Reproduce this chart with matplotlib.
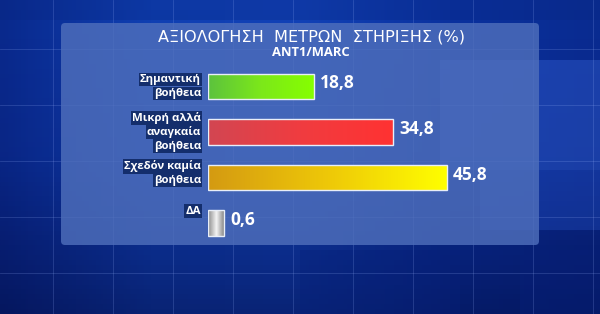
import numpy as np
import matplotlib
matplotlib.use("Agg")
import matplotlib.pyplot as plt
from matplotlib.patches import FancyBboxPatch, Rectangle
from matplotlib.colors import LinearSegmentedColormap
import matplotlib.transforms as mtransforms

# ---- data ----
categories = ["Σημαντική\nβοήθεια", "Μικρή αλλά\nαναγκαία\nβοήθεια",
              "Σχεδόν καμία\nβοήθεια", "ΔΑ"]
values = [18.8, 34.8, 45.8, 0.6]
title = "ΑΞΙΟΛΟΓΗΣΗ  ΜΕΤΡΩΝ  ΣΤΗΡΙΞΗΣ (%)"
subtitle = "ANT1/MARC"

# ---- style ----
bar_gradients = [
    ["#5cc23e", "#7ce81a", "#86ff00"],
    ["#d24652", "#f03c40", "#ff3232"],
    ["#d49a12", "#eec808", "#ffff00"],
    ["#8a8a8a", "#f4f4f4", "#7a7a7a"],
]
label_dy = [0, 0, -4, -12]   # pixel nudges for category labels
plt.rcParams["font.family"] = ["DejaVu Sans"]
BOLDFONT = ["Open Sans", "DejaVu Sans"]

W, H = 600, 314
fig = plt.figure(figsize=(6, 3.14), dpi=100)

# ---- background ----
bg = fig.add_axes([0, 0, 1, 1])
bg.set_xlim(0, W)
bg.set_ylim(H, 0)
bg.axis("off")
bgcmap = LinearSegmentedColormap.from_list("bg", ["#0a2a8e", "#1040b4", "#1242b8", "#0b32a0", "#0a2c92"])
grad = np.linspace(0, 1, 256)[None, :]
bg.imshow(grad, cmap=bgcmap, extent=(0, W, H, 0), aspect="auto", zorder=0)
vgrad = np.linspace(0, 1, 64)[:, None]
bg.imshow(vgrad, cmap=LinearSegmentedColormap.from_list(
    "v", [(0, 0, 0.2, 0.0), (0, 0, 0.2, 0.1), (0, 0, 0.15, 0.45)]),
    extent=(0, W, H, 0), aspect="auto", zorder=0.5)
for (x, y, w, h, c, a) in [(440, 60, 160, 110, "#3a6ae0", 0.35), (480, 170, 120, 60, "#2a58d0", 0.3),
                           (300, 250, 160, 64, "#06207a", 0.35), (520, 250, 80, 64, "#06207a", 0.4),
                           (0, 0, 600, 20, "#08267f", 0.3)]:
    bg.add_patch(Rectangle((x, y), w, h, fc=c, alpha=a, ec="none", zorder=0.8))
for gx in np.arange(53, W, 60):
    bg.axvline(gx, color="#9fb8ff", lw=0.6, alpha=0.22, zorder=0.9)
for gy in np.arange(49, H, 56):
    bg.axhline(gy, color="#9fb8ff", lw=0.6, alpha=0.22, zorder=0.9)

panel = FancyBboxPatch((61, 23), 478, 222, boxstyle="round,pad=0,rounding_size=4",
                       fc="#5070bc", ec="none", alpha=0.8, zorder=1)
bg.add_patch(panel)

bg.text(311, 37, title, color="white", fontsize=11.6, ha="center", va="center", zorder=3)
bg.text(311, 53, subtitle, color="white", fontsize=9.4, fontweight="bold",
        family=BOLDFONT, ha="center", va="center", zorder=3)

# ---- bars ----
px_per_unit = 4.93
base = 2.7
ax_l, ax_r = 208, 540
y_top, y_bot = 63.75, 245.75
ax = fig.add_axes([ax_l / W, 1 - y_bot / H, (ax_r - ax_l) / W, (y_bot - y_top) / H])
ax.set_xlim(-base, -base + (ax_r - ax_l) / px_per_unit)
ax.set_ylim(len(values) - 0.5, -0.5)
ax.axis("off")
ax.patch.set_alpha(0)

ypos = np.arange(len(values))
vals = np.array(values)
bars = ax.barh(ypos, vals + base, left=-base, height=0.56, color="none",
               edgecolor="#e8eef8", linewidth=1.0, zorder=3)
for b, cols in zip(bars, bar_gradients):
    x0, y0 = b.get_x(), b.get_y()
    x1, y1 = x0 + b.get_width(), y0 + b.get_height()
    cm = LinearSegmentedColormap.from_list("g", cols)
    im = ax.imshow(np.linspace(0, 1, 256)[None, :], cmap=cm, extent=(x0, x1, y1, y0),
                   aspect="auto", zorder=2)
    im.set_clip_path(b)

for y, v in zip(ypos, values):
    ax.annotate(f"{v:.1f}".replace(".", ","), xy=(v, y), xytext=(6, 3),
                textcoords="offset pixels", color="white", fontsize=12.5,
                fontweight="bold", family=BOLDFONT, ha="left", va="center", zorder=4)

trans = mtransforms.blended_transform_factory(ax.transAxes, ax.transData)
line_h = 14
for y, cat, dy in zip(ypos, categories, label_dy):
    lines = cat.split("\n")
    n = len(lines)
    for k, line in enumerate(lines):
        off = (-(k - (n - 1) / 2) * line_h) - dy
        ax.annotate(line, xy=(0, y), xycoords=trans, xytext=(-7, off),
                    textcoords="offset pixels", color="white", fontsize=8.2,
                    fontweight="bold", family=BOLDFONT, ha="right", va="center", zorder=4,
                    bbox=dict(boxstyle="square,pad=0.1", fc="#142e6c", ec="none"))

fig.savefig("out.png", dpi=100)
